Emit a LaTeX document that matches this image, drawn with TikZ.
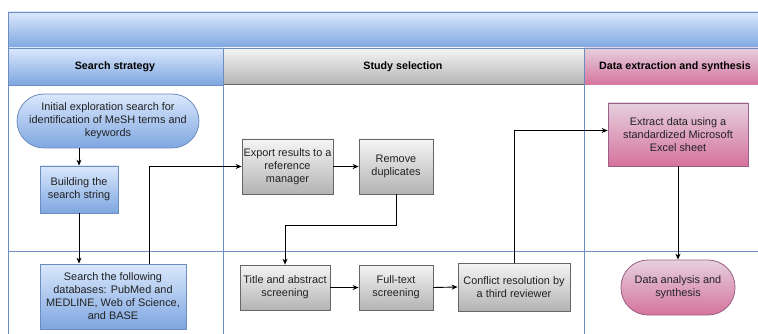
\documentclass[tikz,border=0pt]{standalone}
\usepackage{fontspec}
\setmainfont{Liberation Sans}
\usetikzlibrary{arrows.meta}
\definecolor{bluetop}{HTML}{DAE8FC}
\definecolor{bluebot}{HTML}{7EA6E0}
\definecolor{blueline}{HTML}{6C8EBF}
\definecolor{graytop}{HTML}{F5F5F5}
\definecolor{graybot}{HTML}{B3B3B3}
\definecolor{grayline}{HTML}{666666}
\definecolor{pinktop}{HTML}{E6D0DE}
\definecolor{pinkbot}{HTML}{D5739D}
\definecolor{pinkline}{HTML}{996185}
\definecolor{txt}{HTML}{222222}
\tikzset{
  base/.style={inner sep=1pt, align=center, font=\fontsize{10.9}{13}\selectfont, text=txt, line width=0.8pt},
  bluebox/.style={base, draw=blueline, top color=bluetop, bottom color=bluebot},
  graybox/.style={base, draw=grayline, top color=graytop, bottom color=graybot},
  pinkbox/.style={base, draw=pinkline, top color=pinktop, bottom color=pinkbot},
  arr/.style={-{Stealth[length=6pt,width=5pt]}, line width=0.9pt, black},
  lane/.style={draw=blueline, line width=0.8pt},
  hdr/.style={font=\bfseries\fontsize{10.7}{12}\selectfont, text=black}
}
\begin{document}
\begin{tikzpicture}[x=1pt,y=-1pt]
\useasboundingbox (0,0) rectangle (758,334);
\clip (0,0) rectangle (758,334);
\fill[white] (0,0) rectangle (758,334);
% title bar and headers
\shade[top color=bluetop, bottom color=bluebot] (8,12) rectangle (770,48);
\shade[top color=bluetop, bottom color=bluebot] (8,48) rectangle (223,85);
\shade[top color=graytop, bottom color=graybot] (223,48) rectangle (584,85);
\shade[top color=pinktop, bottom color=pinkbot] (584,48) rectangle (770,85);
\draw[grayline, line width=1pt] (223,85) -- (584,85);
\draw[lane] (8,334) -- (8,12) -- (770,12);
\draw[lane] (8,48) -- (770,48);
\draw[lane] (8,85) -- (223,85);
\draw[lane] (223,48) -- (223,334);
\draw[lane] (584,48) -- (584,334);
\draw[lane] (8,251) -- (770,251);
\node[hdr] (h1) at (115,67) {Search strategy};
\node[hdr] (h2) at (403,67) {Study selection};
\node[hdr] (h3) at (675,67) {Data extraction and synthesis};
% nodes
\node[bluebox, minimum width=182pt, minimum height=54pt, rounded corners=27pt] (init) at (108,121) {Initial exploration search for\\identification of MeSH terms and\\keywords};
\node[bluebox, minimum width=78pt, minimum height=47pt] (build) at (79,189.5) {Building the\\search string};
\node[bluebox, minimum width=146pt, minimum height=65pt] (search) at (113,296.5) {Search the following\\databases: PubMed and\\MEDLINE, Web of Science,\\and BASE};
\node[graybox, minimum width=91pt, minimum height=55pt] (export) at (287.5,166.5) {Export results to a\\reference\\manager};
\node[graybox, minimum width=74pt, minimum height=55pt] (remove) at (396,166.5) {Remove\\duplicates};
\node[graybox, minimum width=90pt, minimum height=45pt] (title) at (285,287.5) {Title and abstract\\screening};
\node[graybox, minimum width=74pt, minimum height=45pt] (full) at (396,287.5) {Full-text\\screening};
\node[graybox, minimum width=112pt, minimum height=48pt] (conflict) at (514,287) {Conflict resolution by\\a third reviewer};
\node[pinkbox, minimum width=140pt, minimum height=63pt] (extract) at (678,134.5) {Extract data using a\\standardized Microsoft\\Excel sheet};
\node[pinkbox, minimum width=114pt, minimum height=55pt, rounded corners=27pt] (analysis) at (678,287.5) {Data analysis and\\synthesis};
% connectors
\draw[arr] (init.south -| build.north) -- (build.north);
\draw[arr] (build.south) -- (build.south |- search.north);
\draw[arr] ([xshift=36pt]search.north) |- (export.west);
\draw[arr] (export.east) -- (remove.west);
\draw[arr] (remove.south) -- ++(0,31) -| (title.north);
\draw[arr] (title.east) -- (full.west);
\draw[arr] (full.east) -- (conflict.west);
\draw[arr] (conflict.north) |- ([yshift=4pt]extract.west);
\draw[arr] (extract.south) -- (analysis.north);
\end{tikzpicture}
\end{document}
